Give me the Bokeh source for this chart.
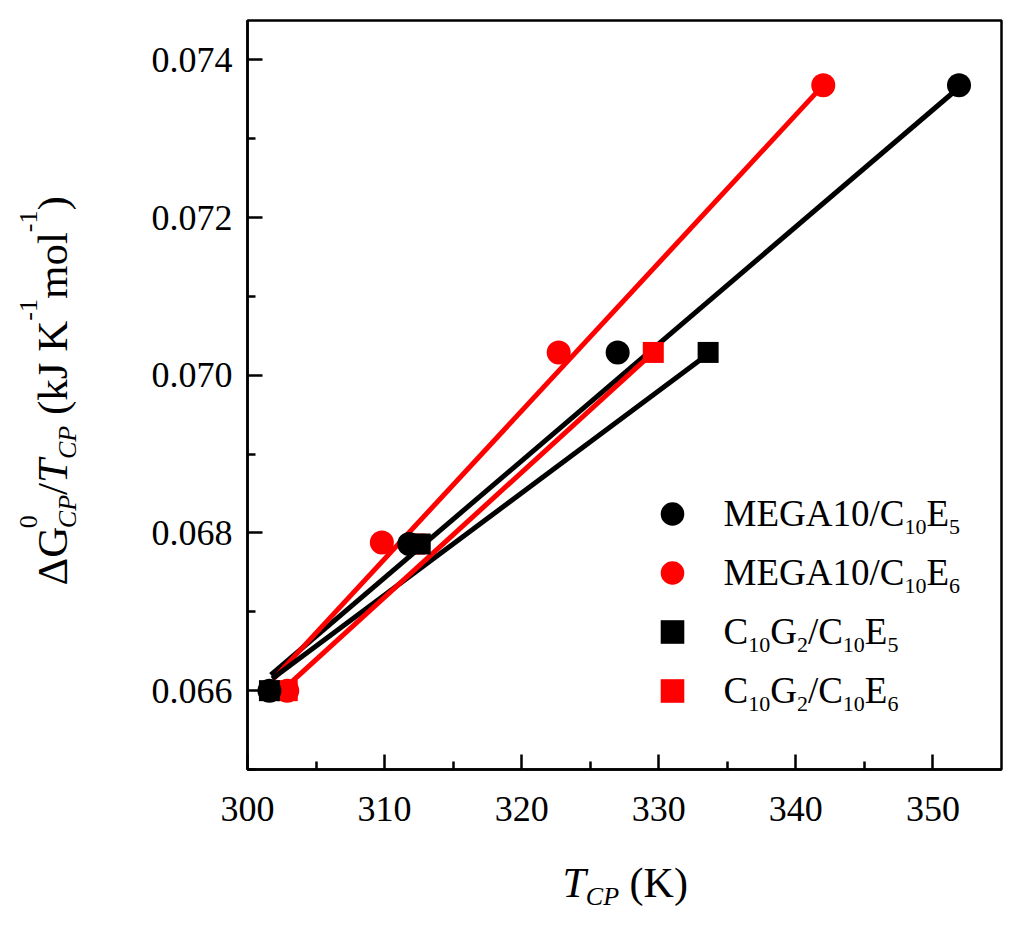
import math

from bokeh.plotting import figure
from bokeh.layouts import row, column
from bokeh.models import (Range1d, FixedTicker, NumeralTickFormatter, Label,
                          Legend, LegendItem)
from bokeh.embed import file_html
from bokeh.resources import INLINE

# values
# MEGA10/C10E5 (black circles)
t_mega_e5 = [301.6, 311.8, 327.0, 351.9]
g_mega_e5 = [0.06600, 0.06786, 0.07029, 0.07368]
# MEGA10/C10E6 (red circles)
t_mega_e6 = [302.9, 309.8, 322.7, 342.0]
g_mega_e6 = [0.06600, 0.06788, 0.07029, 0.07368]
# C10G2/C10E5 (black squares)
t_g2_e5 = [301.6, 312.6, 333.6]
g_g2_e5 = [0.06600, 0.06786, 0.07029]
# C10G2/C10E6 (red squares)
t_g2_e6 = [302.9, 312.2, 329.6]
g_g2_e6 = [0.06600, 0.06786, 0.07029]

# linear fits, end points as drawn in the figure
fit_mega_e5_t = [301.7, 351.9]
fit_mega_e5_g = [0.06620, 0.07365]
fit_mega_e6_t = [301.9, 342.0]
fit_mega_e6_g = [0.06615, 0.07368]
fit_g2_e5_t = [301.8, 333.6]
fit_g2_e5_g = [0.06615, 0.07027]
fit_g2_e6_t = [302.9, 329.6]
fit_g2_e6_g = [0.06606, 0.07029]

x_major = [300, 310, 320, 330, 340, 350]
x_minor = [305, 315, 325, 335, 345]
y_major = [0.066, 0.068, 0.070, 0.072, 0.074]
y_minor = [0.065, 0.067, 0.069, 0.071, 0.073]

RED = "#ff0000"
BLACK = "#000000"
SERIF = "Liberation Serif"
BASE_FIX = 13  # bokeh draws "alphabetic" text a little low

# rough Times advance widths (em), used to chain sub/superscript runs
W_REG = {"M": .889, "E": .611, "G": .722, "A": .722, "C": .667, "K": .722,
         "J": .389, "k": .5, "m": .778, "o": .5, "l": .278, "/": .278,
         " ": .25, "(": .333, ")": .333, "-": .333, "\u0394": .612}
W_IT = {"C": .667, "P": .611, "T": .556}


def run_width(text, italic, fs):
    table = W_IT if italic else W_REG
    return sum(table.get(ch, 0.5) for ch in text) * fs


def rich_text(fig, runs, x0, y0, size, small, sub_drop, sup_rise=0, vertical=False):
    pos = 0.0
    for text, role, italic, advance in runs:
        fs = size if role == "main" else small
        lead = len(text) - len(text.lstrip(" "))
        pos += lead * W_REG[" "] * fs
        body = text.lstrip(" ")
        shift = {"main": 0.0, "sub": -sub_drop, "sup": sup_rise}[role] + BASE_FIX
        if vertical:
            x, y, angle = x0 - shift, y0 + pos, math.pi / 2
        else:
            x, y, angle = x0 + pos, y0 + shift, 0.0
        fig.add_layout(Label(x=x, y=y, x_units="screen", y_units="screen", text=body,
                             angle=angle, text_font=SERIF, text_font_size=f"{fs}px",
                             text_font_style="italic" if italic else "normal",
                             text_align="left", text_baseline="alphabetic",
                             text_color="black"))
        if advance:
            pos += run_width(body, italic, fs)


def text_panel(width, height):
    f = figure(width=width, height=height, output_backend="svg", toolbar_location=None,
               x_range=Range1d(0, 1), y_range=Range1d(0, 1),
               x_axis_location=None, y_axis_location=None, min_border=0)
    f.grid.visible = False
    f.outline_line_color = None
    f.background_fill_color = "white"
    f.border_fill_color = "white"
    return f


p = figure(width=888, height=845, output_backend="svg", toolbar_location=None,
           x_range=Range1d(300, 355), y_range=Range1d(0.065, 0.0745),
           min_border_left=119, min_border_right=15, min_border_top=20,
           min_border_bottom=76)
p.background_fill_color = "white"
p.border_fill_color = "white"
p.grid.visible = False
p.outline_line_color = "black"
p.outline_line_width = 2.5

for ax in (p.xaxis[0], p.yaxis[0]):
    ax.axis_line_width = 2.5
    ax.major_tick_line_width = 2.5
    ax.minor_tick_line_width = 2.5
    ax.major_tick_in = 15
    ax.major_tick_out = 0
    ax.minor_tick_in = 8
    ax.minor_tick_out = 0
    ax.major_label_text_font = SERIF
    ax.major_label_text_font_size = "36px"
    ax.major_label_text_color = "black"

p.xaxis.ticker = FixedTicker(ticks=x_major, minor_ticks=x_minor)
p.yaxis.ticker = FixedTicker(ticks=y_major, minor_ticks=y_minor)
p.yaxis.formatter = NumeralTickFormatter(format="0.000")
p.xaxis.major_label_standoff = 27
p.yaxis.major_label_standoff = 15

# fit lines
p.line(fit_mega_e5_t, fit_mega_e5_g, line_color=BLACK, line_width=5)
p.line(fit_mega_e6_t, fit_mega_e6_g, line_color=RED, line_width=5)
p.line(fit_g2_e5_t, fit_g2_e5_g, line_color=BLACK, line_width=5)
p.line(fit_g2_e6_t, fit_g2_e6_g, line_color=RED, line_width=5)

# points
r_c6 = p.scatter(t_mega_e6, g_mega_e6, marker="circle", size=24, fill_color=RED, line_color=None)
r_s6 = p.scatter(t_g2_e6, g_g2_e6, marker="square", size=21, fill_color=RED, line_color=None)
r_c5 = p.scatter(t_mega_e5, g_mega_e5, marker="circle", size=24, fill_color=BLACK, line_color=None)
r_s5 = p.scatter(t_g2_e5, g_g2_e5, marker="square", size=21, fill_color=BLACK, line_color=None)

# legend: swatches from bokeh, texts with subscripts drawn separately
legend = Legend(items=[LegendItem(label=" ", renderers=[r]) for r in (r_c5, r_c6, r_s5, r_s6)],
                location=(395, 49.5), glyph_width=60, glyph_height=59, spacing=0,
                padding=0, margin=0, label_standoff=0, label_width=1, label_height=1,
                label_text_font_size="1px", background_fill_alpha=0, border_line_alpha=0)
p.add_layout(legend, "center")

legend_rows = [
    [("MEGA10/C", "main"), ("10", "sub"), ("E", "main"), ("5", "sub")],
    [("MEGA10/C", "main"), ("10", "sub"), ("E", "main"), ("6", "sub")],
    [("C", "main"), ("10", "sub"), ("G", "main"), ("2", "sub"), ("/C", "main"),
     ("10", "sub"), ("E", "main"), ("5", "sub")],
    [("C", "main"), ("10", "sub"), ("G", "main"), ("2", "sub"), ("/C", "main"),
     ("10", "sub"), ("E", "main"), ("6", "sub")],
]
for i, items in enumerate(legend_rows):
    runs = [(t, role, False, True) for t, role in items]
    rich_text(p, runs, 476, 243 - 59 * i, 37, 22, sub_drop=13)

# x axis title: T_CP (K)
xlab = text_panel(888, 85)
rich_text(xlab, [("T", "main", True, True), ("CP", "sub", True, True),
                 (" (K)", "main", False, True)],
          315, 35, 42, 26, sub_drop=14)

# y axis title: ΔG0_CP/T_CP (kJ K-1 mol-1)
ylab = text_panel(128, 930)
rich_text(ylab, [("\u0394G", "main", False, True), ("0", "sup", False, False),
                 ("CP", "sub", True, True), ("/", "main", False, True),
                 ("T", "main", True, True), ("CP", "sub", True, True),
                 (" (kJ K", "main", False, True), ("-1", "sup", False, True),
                 ("mol", "main", False, True), ("-1", "sup", False, True),
                 (")", "main", False, True)],
          65, 345, 43, 26, sub_drop=15, sup_rise=24, vertical=True)

page = row(ylab, column(p, xlab))
open("out.html", "w").write(file_html(page, INLINE))
